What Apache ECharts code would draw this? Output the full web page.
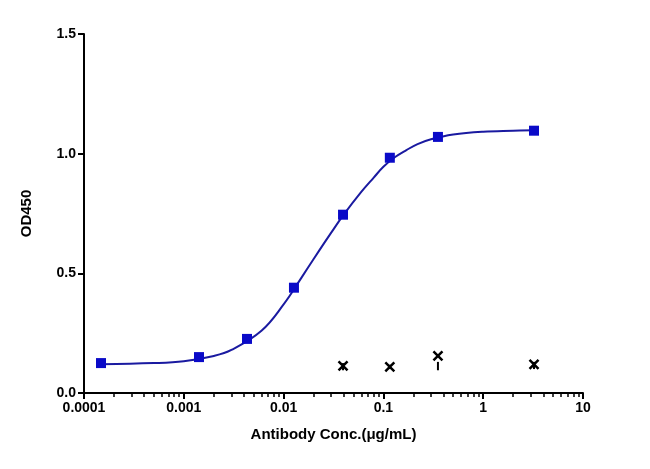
<!DOCTYPE html>
<html><head><meta charset="utf-8">
<script src="https://cdn.jsdelivr.net/npm/echarts@6/dist/echarts.min.js"></script>
<style>body{margin:0}#main{width:650px;height:469px}</style></head>
<body><div id="main"></div>
<script>
// measured points
var concs = [0.000148, 0.00142, 0.0043, 0.0127, 0.0394, 0.116, 0.352, 3.23];
var odVals = [0.125, 0.15, 0.226, 0.44, 0.745, 0.983, 1.07, 1.096];
// fitted curve
var curveX = [0.000148, 0.0005, 0.001, 0.002, 0.003, 0.006, 0.01, 0.015, 0.02, 0.03, 0.04, 0.06, 0.08, 0.1, 0.13, 0.17, 0.22, 0.3, 0.5, 1, 2, 3.23];
var curveY = [0.12, 0.125, 0.133, 0.155, 0.18, 0.26, 0.37, 0.48, 0.56, 0.67, 0.745, 0.84, 0.9, 0.945, 0.985, 1.015, 1.04, 1.06, 1.08, 1.092, 1.096, 1.098];
// control (crosses)
var ctrlX = [0.0394, 0.116, 0.352, 3.23];
var ctrlY = [0.113, 0.109, 0.155, 0.12];
var ctrlLow = [0.095, 0.1, 0.095, 0.1];
var ctrlHigh = [0.125, 0.118, 0.13, 0.13];

var myChart = echarts.init(document.getElementById('main'));
var xPath = 'path://M0,0L10,10M10,0L0,10';
var font = {fontFamily: 'Liberation Sans', fontWeight: 'bold', fontSize: 15, color: '#000'};
var tickFont = {fontFamily: 'Liberation Sans', fontWeight: 'bold', fontSize: 14, color: '#000'};

option = {
  animation: false,
  grid: {left: 84, right: 67, top: 34, bottom: 76},
  xAxis: {
    type: 'log', min: 0.0001, max: 10, logBase: 10,
    name: 'Antibody Conc.(μg/mL)', nameLocation: 'middle', nameGap: 34,
    nameTextStyle: font,
    axisLine: {lineStyle: {color: '#000', width: 2}},
    axisTick: {length: 6, lineStyle: {color: '#000', width: 2}},
    minorTick: {show: true, splitNumber: 9, length: 4, lineStyle: {color: '#000', width: 1.5}},
    axisLabel: Object.assign({margin: 8, formatter: function (v) { return String(+v.toPrecision(1)); }}, tickFont),
    splitLine: {show: false}
  },
  yAxis: {
    type: 'value', min: 0, max: 1.5, interval: 0.5,
    name: 'OD450', nameLocation: 'middle', nameGap: 50, nameTextStyle: font,
    axisLine: {show: true, lineStyle: {color: '#000', width: 2}},
    axisTick: {show: true, length: 6, lineStyle: {color: '#000', width: 2}},
    axisLabel: Object.assign({formatter: function (v) { return v.toFixed(1); }}, tickFont),
    splitLine: {show: false}
  },
  series: [
    {type: 'line', smooth: 0.4, symbol: 'none', data: curveX.map(function (x, i) { return [x, curveY[i]]; }),
      lineStyle: {color: '#1a1aa0', width: 2}, z: 2},
    {type: 'scatter', symbol: 'rect', symbolSize: 10, data: concs.map(function (x, i) { return [x, odVals[i]]; }),
      itemStyle: {color: '#0a0ac8', opacity: 1}, z: 3},
    {type: 'custom', data: ctrlX.map(function (x, i) { return [x, ctrlLow[i], ctrlHigh[i]]; }),
      renderItem: function (params, api) {
        var lo = api.coord([api.value(0), api.value(1)]);
        var hi = api.coord([api.value(0), api.value(2)]);
        return {type: 'line', shape: {x1: lo[0], y1: lo[1], x2: hi[0], y2: hi[1]},
          style: {stroke: '#000', lineWidth: 2}};
      }, z: 3},
    {type: 'scatter', symbol: xPath, symbolSize: 9, data: ctrlX.map(function (x, i) { return [x, ctrlY[i]]; }),
      itemStyle: {color: 'none', borderColor: '#000', borderWidth: 2.5, opacity: 1}, z: 4}
  ]
};
myChart.setOption(option);
</script></body></html>
